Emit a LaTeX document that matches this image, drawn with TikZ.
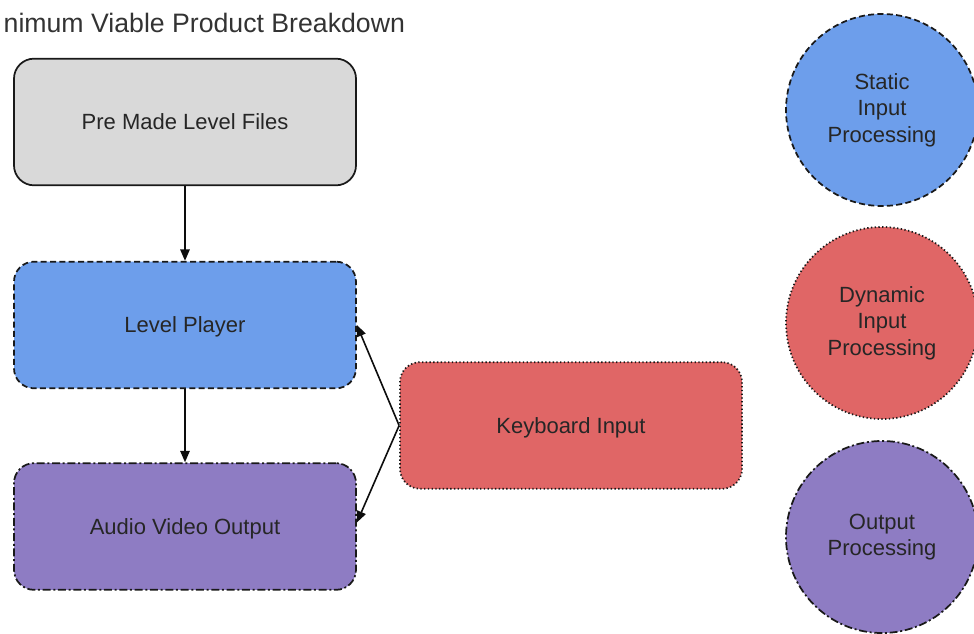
\documentclass[tikz,border=0pt]{standalone}
\usepackage{fontspec}
\setmainfont{Liberation Sans}
\usetikzlibrary{arrows.meta}
\definecolor{boxgray}{HTML}{D9D9D9}
\definecolor{boxblue}{HTML}{6D9EEB}
\definecolor{boxred}{HTML}{E06666}
\definecolor{boxpurple}{HTML}{8E7CC3}
\tikzset{
  box/.style={rectangle, rounded corners=15pt, minimum width=256.5pt, minimum height=95pt,
    draw=black!90, line width=1.3pt, font=\fontsize{16.5}{20}\selectfont, text=black!85,
    text height=13pt, text depth=1pt},
  bubble/.style={circle, minimum size=144pt, inner sep=0pt, draw=black!90, line width=1.3pt,
    font=\fontsize{16.5}{20}\selectfont, text=black!85, align=center},
  dashline/.style={dash pattern=on 4.5pt off 2.5pt},
  dotline/.style={dash pattern=on 1pt off 1.8pt},
  dashdotline/.style={dash pattern=on 6pt off 2pt on 1.5pt off 2pt},
  conn/.style={line width=1.2pt, black!95, -{Triangle[length=8.5pt,width=7pt]}},
}
\begin{document}
\begin{tikzpicture}[x=0.75pt, y=-0.75pt]
\useasboundingbox (0,0) rectangle (974,634);
\node[anchor=base west, font=\fontsize{20}{24}\selectfont, text=black!80] (title) at (-1,33) {nimum Viable Product Breakdown};
\node[box, fill=boxgray] (files) at (185,122) {Pre Made Level Files};
\node[box, fill=boxblue, dashline] (player) at (185,325) {Level Player};
\node[box, fill=boxpurple, dashdotline] (av) at (185,526.5) {Audio Video Output};
\node[box, fill=boxred, dotline] (kb) at (571,425.5) {Keyboard Input};
\node[bubble, fill=boxblue, dashline] (static) at (882,110) {Static\\Input\\Processing};
\node[bubble, fill=boxred, dotline] (dynamic) at (882,323) {Dynamic\\Input\\Processing};
\node[bubble, fill=boxpurple, dashdotline] (outproc) at (882,537) {Output\\Processing};
\draw[conn] (files) -- (player);
\draw[conn] (player) -- (av);
\draw[conn] (kb.west) -- (player.east);
\draw[conn] (kb.west) -- ([yshift=3pt]av.east);
\end{tikzpicture}
\end{document}
